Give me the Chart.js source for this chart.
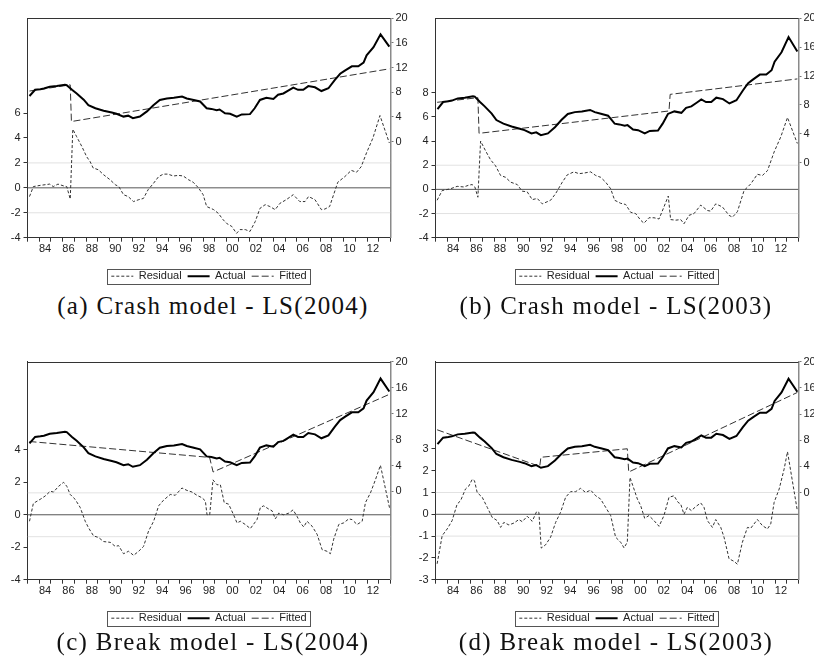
<!DOCTYPE html>
<html>
<head>
<meta charset="utf-8">
<script src="https://cdn.jsdelivr.net/npm/chart.js@4.4.1/dist/chart.umd.min.js"></script>
<style>
  body { margin: 0; background: #fff; }
  #page { position: relative; width: 814px; height: 664px; overflow: hidden; background: #fff; }
  #page canvas { position: absolute; }
  .cap { position: absolute; width: 412px; text-align: center; font-family: 'Liberation Serif', serif; font-size: 25px; line-height: 25px; letter-spacing: 1.3px; color: #111; white-space: nowrap; }
</style>
</head>
<body>
<div id="page">
  <canvas id="chartA" width="412" height="292" style="left:0px;top:0px"></canvas>
  <canvas id="chartB" width="412" height="292" style="left:408px;top:0px"></canvas>
  <canvas id="chartC" width="412" height="291" style="left:0px;top:343px"></canvas>
  <canvas id="chartD" width="412" height="291" style="left:408px;top:343px"></canvas>
  <div class="cap" style="left:7px;top:292.5px">(a) Crash model - LS(2004)</div>
  <div class="cap" style="left:410px;top:292.5px">(b) Crash model - LS(2003)</div>
  <div class="cap" style="left:7px;top:629px">(c) Break model - LS(2004)</div>
  <div class="cap" style="left:410px;top:629px">(d) Break model - LS(2003)</div>
</div>
<script>
// x axis: one tick per year, labels on even years
const xTickYears = [1984, 1986, 1988, 1990, 1992, 1994, 1996, 1998, 2000, 2002, 2004, 2006, 2008, 2010, 2012];
const xTickLabels = ["84", "86", "88", "90", "92", "94", "96", "98", "00", "02", "04", "06", "08", "10", "12"];
const rightTicks = [0, 4, 8, 12, 16, 20];

// actual series (same in every panel)
const actualYears = [1983.17,1983.65,1984.1,1984.4,1984.9,1985.5,1986.2,1986.35,1986.8,1987.2,1987.8,1988.2,1988.8,1989.5,1990.2,1990.6,1991.2,1991.6,1992.0,1992.6,1993.2,1993.75,1994.3,1994.9,1995.5,1996.2,1996.6,1997.2,1997.74,1998.3,1998.7,1999.16,1999.4,1999.87,2000.3,2000.87,2001.3,2002.0,2002.4,2002.85,2003.4,2004.0,2004.4,2004.85,2005.3,2005.7,2006.1,2006.55,2006.98,2007.55,2008.1,2008.7,2009.25,2009.7,2010.1,2010.7,2011.25,2011.7,2011.96,2012.55,2013.15,2013.9];
const actualValues = [7.4,8.4,8.5,8.6,8.9,9.0,9.2,9.15,8.4,7.8,6.8,5.9,5.4,5.0,4.7,4.5,4.05,4.2,3.8,4.05,4.9,5.9,6.75,7.0,7.1,7.3,7.0,6.75,6.5,5.4,5.3,5.1,5.2,4.6,4.5,4.05,4.4,4.45,5.4,6.75,7.1,6.9,7.6,7.8,8.3,8.75,8.4,8.4,9.0,8.8,8.2,8.65,10.0,11.0,11.5,12.2,12.2,12.8,14.0,15.3,17.4,15.4];

// (a) crash model LS(2004)
const fitAYears = [1983.17, 1986.65, 1986.75, 2013.9];
const fitAValues = [8.2, 9.2, 3.25, 11.8];
const residAYears = [1983.17,1983.5,1984.1,1984.9,1985.2,1985.6,1986.1,1986.35,1986.65,1986.87,1987.2,1987.65,1988.05,1988.35,1988.6,1989.05,1989.5,1990.05,1990.5,1990.8,1991.2,1991.6,1992.05,1992.5,1992.9,1993.3,1993.75,1994.2,1994.6,1995.0,1995.45,1995.9,1996.3,1996.75,1997.15,1997.6,1998.0,1998.3,1998.9,1999.3,1999.7,2000.0,2000.45,2000.85,2001.15,2001.6,2002.0,2002.45,2002.85,2003.3,2003.7,2004.15,2004.55,2005.1,2005.7,2006.25,2006.7,2007.0,2007.55,2008.1,2008.4,2008.8,2009.5,2010.1,2010.65,2011.1,2011.5,2011.95,2012.5,2013.1,2013.9];
const residAValues = [-0.7,0.1,0.2,0.3,0.1,0.3,0.15,0.1,-0.9,4.7,4.1,3.3,2.5,2.1,1.6,1.45,1.05,0.65,0.25,0.1,-0.55,-0.7,-1.1,-0.95,-0.85,-0.15,0.35,0.9,1.1,1.1,0.95,1.0,0.95,0.65,0.45,0.0,-0.55,-1.5,-1.75,-2.05,-2.55,-2.85,-3.1,-3.65,-3.35,-3.35,-3.5,-2.7,-1.65,-1.35,-1.5,-1.75,-1.25,-0.95,-0.55,-1.1,-1.1,-0.7,-0.95,-1.75,-1.7,-1.5,0.45,0.9,1.4,1.25,1.7,2.8,4.0,5.8,3.6];
const bandA = 2.0;

// (b) crash model LS(2003)
const fitBYears = [1983.14, 1986.62, 1986.72, 2002.94, 2003.04, 2013.9];
const fitBValues = [8.36, 9.0, 4.06, 7.16, 9.46, 11.6];
const residBYears = [1983.14,1983.57,1984.28,1984.85,1985.42,1985.85,1986.13,1986.36,1986.62,1986.85,1987.27,1987.7,1988.13,1988.56,1988.98,1989.41,1989.98,1990.4,1990.83,1991.26,1991.69,1992.12,1992.83,1993.26,1993.83,1994.25,1994.82,1995.25,1995.68,1996.25,1996.68,1997.1,1997.53,1997.96,1998.3,1998.81,1999.24,1999.67,2000.09,2000.52,2000.8,2001.23,2001.66,2002.09,2002.51,2002.88,2003.08,2003.51,2003.94,2004.22,2004.65,2005.08,2005.65,2006.22,2006.5,2006.93,2007.5,2008.07,2008.36,2008.78,2009.35,2009.92,2010.49,2010.92,2011.35,2011.92,2012.49,2013.06,2013.9];
const residBValues = [-0.9,-0.1,0.05,0.25,0.2,0.35,0.4,0.2,-0.65,4.0,3.2,2.45,1.95,1.15,1.0,0.6,0.4,-0.15,-0.2,-0.85,-0.75,-1.2,-0.9,-0.35,0.6,1.2,1.45,1.3,1.35,1.45,1.15,1.0,0.6,0.05,-0.9,-1.15,-1.25,-1.9,-2.0,-2.55,-2.8,-2.35,-2.35,-2.45,-1.45,-0.55,-2.5,-2.55,-2.5,-2.85,-2.15,-2.0,-1.3,-1.75,-1.8,-1.2,-1.45,-2.15,-2.3,-1.85,-0.1,0.45,1.25,1.15,1.55,3.1,4.35,5.95,3.8];
const bandB = 2.0;

// (c) break model LS(2004)
const fitCYears = [1983.17, 1998.55, 1998.85, 2013.94];
const fitCValues = [7.7, 5.25, 3.0, 15.0];
const residCYears = [1983.17,1983.5,1984.08,1984.5,1984.94,1985.22,1985.65,1986.08,1986.36,1986.65,1987.07,1987.5,1987.93,1988.21,1988.64,1989.07,1989.5,1990.07,1990.5,1990.78,1991.2,1991.63,1992.06,1992.49,1992.91,1993.34,1993.77,1994.2,1994.62,1995.19,1995.62,1996.19,1996.62,1997.05,1997.47,1997.9,1998.19,1998.33,1998.56,1998.84,1999.18,1999.47,1999.8,2000.18,2000.6,2000.89,2001.18,2001.6,2002.03,2002.6,2002.89,2003.17,2003.6,2003.88,2004.17,2004.45,2004.88,2005.31,2005.68,2006.02,2006.3,2006.59,2006.87,2007.3,2007.73,2008.16,2008.58,2008.87,2009.15,2009.58,2010.0,2010.44,2010.72,2011.15,2011.58,2011.86,2012.29,2012.71,2013.14,2013.94];
const residCValues = [-0.4,0.7,0.95,1.15,1.45,1.4,1.75,2.0,1.75,1.25,0.95,0.45,-0.4,-0.8,-1.3,-1.4,-1.65,-1.7,-1.95,-1.9,-2.4,-2.25,-2.5,-2.25,-1.95,-1.0,-0.4,0.55,0.9,1.25,1.2,1.65,1.5,1.4,1.2,1.05,0.85,0.0,0.0,2.15,1.85,1.85,0.75,0.65,0.0,-0.5,-0.4,-0.6,-0.85,-0.3,0.45,0.55,0.35,0.25,-0.25,0.1,0.0,0.1,0.3,-0.1,-0.5,-0.75,-0.4,-0.7,-1.2,-2.15,-2.25,-2.4,-1.5,-0.6,-0.5,-0.25,-0.3,-0.6,-0.4,0.75,1.35,2.15,3.05,0.35];
const bandC = 1.35;

// (d) break model LS(2003)
const fitDYears = [1983.14, 1991.9, 1992.0, 1999.38, 1999.5, 2013.9];
const fitDValues = [9.6, 4.0, 5.4, 6.7, 3.15, 15.3];
const residDYears = [1983.14,1983.57,1984.0,1984.42,1984.85,1985.14,1985.56,1985.85,1986.13,1986.33,1986.56,1986.99,1987.42,1987.84,1988.27,1988.56,1988.84,1989.27,1989.7,1990.12,1990.41,1990.83,1991.26,1991.63,1991.83,1992.03,1992.4,1992.83,1993.26,1993.68,1994.11,1994.54,1994.97,1995.39,1995.82,1996.25,1996.68,1997.1,1997.53,1997.96,1998.38,1998.81,1999.1,1999.38,1999.61,1999.95,2000.24,2000.52,2000.86,2001.23,2001.66,2002.09,2002.51,2002.94,2003.37,2003.71,2003.94,2004.22,2004.51,2004.85,2005.22,2005.65,2005.93,2006.22,2006.65,2006.93,2007.36,2007.64,2008.07,2008.5,2008.78,2009.21,2009.64,2009.92,2010.49,2010.92,2011.35,2011.63,2011.92,2012.35,2012.77,2013.06,2013.9];
const residDValues = [-2.27,-0.98,-0.67,-0.29,0.47,0.62,1.16,1.3,1.6,1.54,1.0,0.78,0.32,-0.14,-0.29,-0.6,-0.37,-0.49,-0.4,-0.24,-0.34,-0.09,-0.32,0.12,0.09,-1.55,-1.4,-1.05,-0.37,0.09,0.78,1.04,1.04,1.19,1.0,1.11,0.85,0.7,0.32,-0.06,-1.05,-1.28,-1.54,-1.28,1.69,1.16,0.7,0.4,-0.18,-0.06,-0.29,-0.55,-0.06,0.78,0.85,0.55,0.47,0.0,0.32,0.17,0.35,0.52,0.32,-0.29,-0.6,-0.24,-0.6,-1.05,-2.04,-2.16,-2.29,-1.28,-0.6,-0.64,-0.24,-0.52,-0.67,-0.44,0.55,1.16,2.07,2.87,0.17];
const bandD = 1.0;

const yearTicks = [];
for (let y = 1983; y <= 2014; y++) yearTicks.push(y);

const tickFont = { family: "'Liberation Sans', Arial, sans-serif", size: 11 };
const tickColor = '#222';

function pts(xs, ys) {
    return xs.map((x, i) => ({ x: x, y: ys[i] }));
}

// top edge of the plot frame + box round the legend
const framePlugin = {
    id: 'frame',
    afterDraw(chart) {
        const ctx = chart.ctx;
        const a = chart.chartArea;
        ctx.save();
        ctx.strokeStyle = '#333';
        ctx.lineWidth = 1;
        ctx.beginPath();
        ctx.moveTo(a.left, Math.round(a.top) + 0.5);
        ctx.lineTo(a.right, Math.round(a.top) + 0.5);
        ctx.stroke();
        const boxes = chart.legend.legendHitBoxes;
        if (boxes && boxes.length) {
            let l = Infinity, r = -Infinity, t = Infinity, b = -Infinity;
            boxes.forEach(h => {
                l = Math.min(l, h.left);
                r = Math.max(r, h.left + h.width);
                t = Math.min(t, h.top);
                b = Math.max(b, h.top + h.height);
            });
            ctx.strokeStyle = '#555';
            ctx.strokeRect(Math.round(l - 4) + 0.5, Math.round(t - 2) + 0.5, Math.round(r - l + 8), Math.round(b - t + 4));
        }
        ctx.restore();
    }
};

// legend samples: keep the dataset's own dash pattern and width
function legendLabels(chart) {
    const items = Chart.defaults.plugins.legend.labels.generateLabels(chart);
    return items.map(item => {
        const ds = chart.data.datasets[item.datasetIndex];
        item.lineDash = ds.borderDash || [];
        item.lineWidth = ds.borderWidth;
        item.strokeStyle = ds.borderColor;
        item.fillStyle = ds.borderColor;
        return item;
    });
}

function makePanel(id, p) {
    const refLine = (v, color, dash) => ({
        label: 'ref', data: pts([1983, 2014], [v, v]), yAxisID: 'y',
        borderColor: color, borderWidth: 1, borderDash: dash, pointRadius: 0
    });
    return new Chart(document.getElementById(id), {
        type: 'line',
        data: {
            datasets: [
                { label: 'Residual', data: pts(p.residYears, p.residValues), yAxisID: 'y', borderColor: '#333', borderWidth: 1, borderDash: [3, 2], pointRadius: 0 },
                { label: 'Actual', data: pts(actualYears, actualValues), yAxisID: 'y2', borderColor: '#000', borderWidth: 2, pointRadius: 0 },
                { label: 'Fitted', data: pts(p.fitYears, p.fitValues), yAxisID: 'y2', borderColor: '#333', borderWidth: 1, borderDash: [7, 3], pointRadius: 0 },
                refLine(0, '#555', []),
                refLine(p.band, '#c4c4c4', [1, 1]),
                refLine(-p.band, '#c4c4c4', [1, 1])
            ]
        },
        options: {
            responsive: false,
            animation: false,
            devicePixelRatio: 1,
            layout: { padding: { top: p.padTop, left: 6, right: 0, bottom: 0.3 } },
            plugins: {
                tooltip: { enabled: false },
                legend: {
                    position: 'bottom',
                    labels: {
                        usePointStyle: true,
                        pointStyle: 'line',
                        pointStyleWidth: 22,
                        boxHeight: 11,
                        padding: 6,
                        font: tickFont,
                        color: tickColor,
                        generateLabels: legendLabels,
                        filter: item => item.datasetIndex < 3
                    }
                }
            },
            scales: {
                x: {
                    type: 'linear', min: 1983, max: 2014,
                    afterBuildTicks: s => { s.ticks = yearTicks.map(v => ({ value: v })); },
                    afterFit: s => { s.height = 27; },
                    ticks: {
                        autoSkip: false, maxRotation: 0, padding: 1, labelOffset: 5.85,
                        font: tickFont, color: tickColor,
                        callback: v => { const i = xTickYears.indexOf(v); return i < 0 ? '' : xTickLabels[i]; }
                    },
                    grid: { drawOnChartArea: false, tickLength: 4, tickColor: '#333' },
                    border: { color: '#333' }
                },
                y: {
                    position: 'left', min: p.left[0], max: p.left[1],
                    afterBuildTicks: s => { s.ticks = p.leftTicks.map(v => ({ value: v })); },
                    afterFit: s => { s.width = 21.5; },
                    ticks: { padding: 3, font: tickFont, color: tickColor, callback: v => String(v) },
                    grid: { drawOnChartArea: false, tickLength: 4, tickColor: '#333' },
                    border: { color: '#333' }
                },
                y2: {
                    position: 'right', min: p.right[0], max: p.right[1],
                    afterBuildTicks: s => { s.ticks = rightTicks.map(v => ({ value: v })); },
                    afterFit: s => { s.width = 21.5; },
                    ticks: { padding: 2, font: tickFont, color: tickColor, callback: v => String(v) },
                    grid: { drawOnChartArea: false, tickLength: 3, tickColor: '#777' },
                    border: { color: '#8a8a8a', width: 1.5 }
                }
            }
        },
        plugins: [framePlugin]
    });
}

makePanel('chartA', { residYears: residAYears, residValues: residAValues, fitYears: fitAYears, fitValues: fitAValues, band: bandA, leftTicks: [-4, -2, 0, 2, 4, 6], left: [-4, 13.6], right: [-15.6, 20], padTop: 18.3 });
makePanel('chartB', { residYears: residBYears, residValues: residBValues, fitYears: fitBYears, fitValues: fitBValues, band: bandB, leftTicks: [-4, -2, 0, 2, 4, 6, 8], left: [-4, 14.16], right: [-10.4, 20], padTop: 18.3 });
makePanel('chartC', { residYears: residCYears, residValues: residCValues, fitYears: fitCYears, fitValues: fitCValues, band: bandC, leftTicks: [-4, -2, 0, 2, 4], left: [-4, 9.43], right: [-13.6, 20], padTop: 18.7 });
makePanel('chartD', { residYears: residDYears, residValues: residDValues, fitYears: fitDYears, fitValues: fitDValues, band: bandD, leftTicks: [-3, -2, -1, 0, 1, 2, 3], left: [-3, 7], right: [-13.3, 20], padTop: 18.7 });
</script>
</body>
</html>
